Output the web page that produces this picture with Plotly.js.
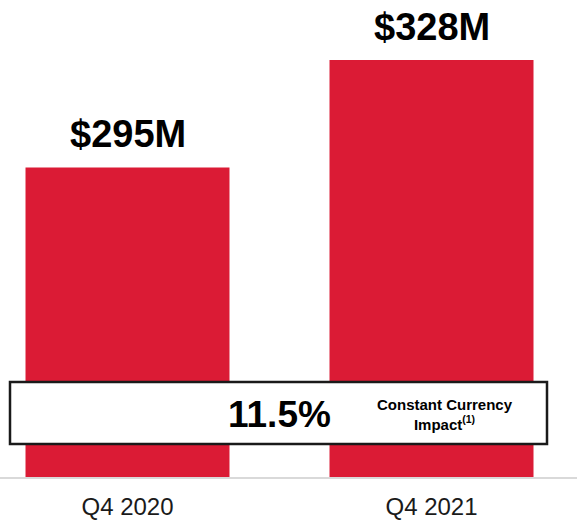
<!DOCTYPE html>
<html>
<head>
<meta charset="utf-8">
<script src="https://cdn.plot.ly/plotly-3.0.1.min.js"></script>
<style>html,body{margin:0;padding:0;background:#fff;}#chart{width:577px;height:520px;}</style>
</head>
<body>
<div id="chart"></div>
<script>
const categories = ["Q4 2020", "Q4 2021"];
const revenue = [295, 328];
const valueLabels = ["$295M", "$328M"];
const impactValue = "11.5%";
const impactLabel = "Constant Currency<br>Impact<sup>(1)</sup>";

const barColor = "#DB1B35";
const FONT = "Liberation Sans, Arial, sans-serif";

const trace = {
  type: "bar",
  x: categories,
  y: revenue,
  marker: {color: barColor},
  width: 0.671,
  hoverinfo: "skip"
};

const annotations = categories.map((c, i) => ({
  x: c, y: revenue[i], xref: "x", yref: "y",
  text: "<b>" + valueLabels[i] + "</b>",
  showarrow: false, yanchor: "bottom", yshift: 10,
  font: {family: FONT, size: 38, color: "#000"}
}));

annotations.push({
  xref: "paper", yref: "paper", x: 279/577, y: (477-414)/477,
  text: "<b>" + impactValue + "</b>", showarrow: false,
  xanchor: "center", yanchor: "middle",
  font: {family: FONT, size: 37, color: "#000"}
});
annotations.push({
  xref: "paper", yref: "paper", x: 445/577, y: (477-414.5)/477,
  text: "<b>" + impactLabel + "</b>", showarrow: false,
  xanchor: "center", yanchor: "middle", align: "center",
  font: {family: FONT, size: 15, color: "#000"}
});

const layout = {
  width: 577, height: 520,
  margin: {l: 0, r: 0, t: 0, b: 43},
  paper_bgcolor: "#fff", plot_bgcolor: "#fff",
  showlegend: false,
  xaxis: {
    type: "category",
    range: [-0.4194, 1.4786],
    showgrid: false, zeroline: false,
    showline: true, linecolor: "#D9D9D9", linewidth: 2,
    ticks: "", ticklabelstandoff: 7,
    tickfont: {family: FONT, size: 24, color: "#1a1a1a"},
    fixedrange: true
  },
  yaxis: {
    range: [200, 346.4],
    visible: false, showgrid: false, zeroline: false,
    fixedrange: true
  },
  shapes: [{
    type: "rect", xref: "paper", yref: "paper",
    x0: 10/577, x1: 547/577, y0: (477-444)/477, y1: (477-382)/477,
    fillcolor: "#fff", line: {color: "#1a1a1a", width: 2.5}, layer: "above"
  }],
  annotations: annotations
};

Plotly.newPlot("chart", [trace], layout, {displayModeBar: false, staticPlot: true});
</script>
</body>
</html>
